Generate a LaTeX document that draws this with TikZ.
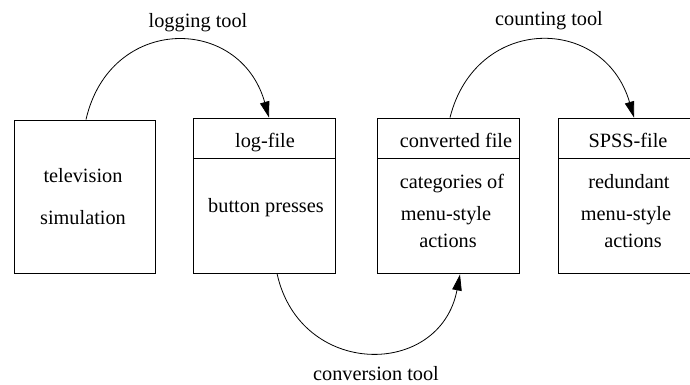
\documentclass[tikz,border=0pt]{standalone}
\usepackage{fontspec}
\setmainfont{Liberation Serif}
\usetikzlibrary{arrows.meta,calc}
\begin{document}
\begin{tikzpicture}[x=1pt,y=-1pt,
  every node/.style={font=\fontsize{20.3}{24}\selectfont},
  boxpart/.style={draw,line width=0.9pt,inner sep=0pt,minimum width=142pt},
  lbl/.style={anchor=base,inner sep=0pt},
  arr/.style={line width=0.8pt,-{Triangle[length=16pt,width=9.5pt]}}]
\useasboundingbox (0,0) rectangle (690,384);
% boxes
\node[boxpart,minimum width=141pt,minimum height=153pt] (b1) at (84.5,196.5) {};
\node[boxpart,minimum height=40pt] (b2h) at (264,138) {};
\node[boxpart,minimum height=115pt] (b2b) at (264,215.5) {};
\node[boxpart,minimum height=40pt] (b3h) at (448,138) {};
\node[boxpart,minimum height=115pt] (b3b) at (448,215.5) {};
\node[boxpart,minimum height=40pt] (b4h) at (629,138) {};
\node[boxpart,minimum height=115pt] (b4b) at (629,215.5) {};
% box texts
\node[lbl] (t1a) at (83,182) {television};
\node[lbl] (t1b) at (83,224) {simulation};
\node[lbl] (t2a) at (265,147) {log-file};
\node[lbl] (t2b) at (266,212) {button presses};
\node[lbl] (t3a) at (456,147) {converted file};
\node[lbl] (t3b) at (452,188) {categories of};
\node[lbl] (t3c) at (446,220) {menu-style};
\node[lbl] (t3d) at (448,247) {actions};
\node[lbl] (t4a) at (628,147) {SPSS-file};
\node[lbl] (t4b) at (629,188) {redundant};
\node[lbl] (t4c) at (626,220) {menu-style};
\node[lbl] (t4d) at (633,247) {actions};
% edge labels
\node[lbl] (l1) at (198,27) {logging tool};
\node[lbl] (l2) at (549,25) {counting tool};
\node[lbl] (l3) at (376,380) {conversion tool};
% connectors
\draw[arr] ($(b1.north)+(1.5,0)$) .. controls +(24,-105) and +(-29,-103) .. ($(b2h.north)+(5,0)$);
\draw[arr] ($(b3h.north)+(2,0)$) .. controls +(26,-103) and +(-30,-103) .. ($(b4h.north)+(5,0)$);
\draw[arr] ($(b2b.south)+(13,0)$) .. controls +(23,105) and +(-20,104) .. ($(b3b.south)+(12,1)$);
\end{tikzpicture}
\end{document}
